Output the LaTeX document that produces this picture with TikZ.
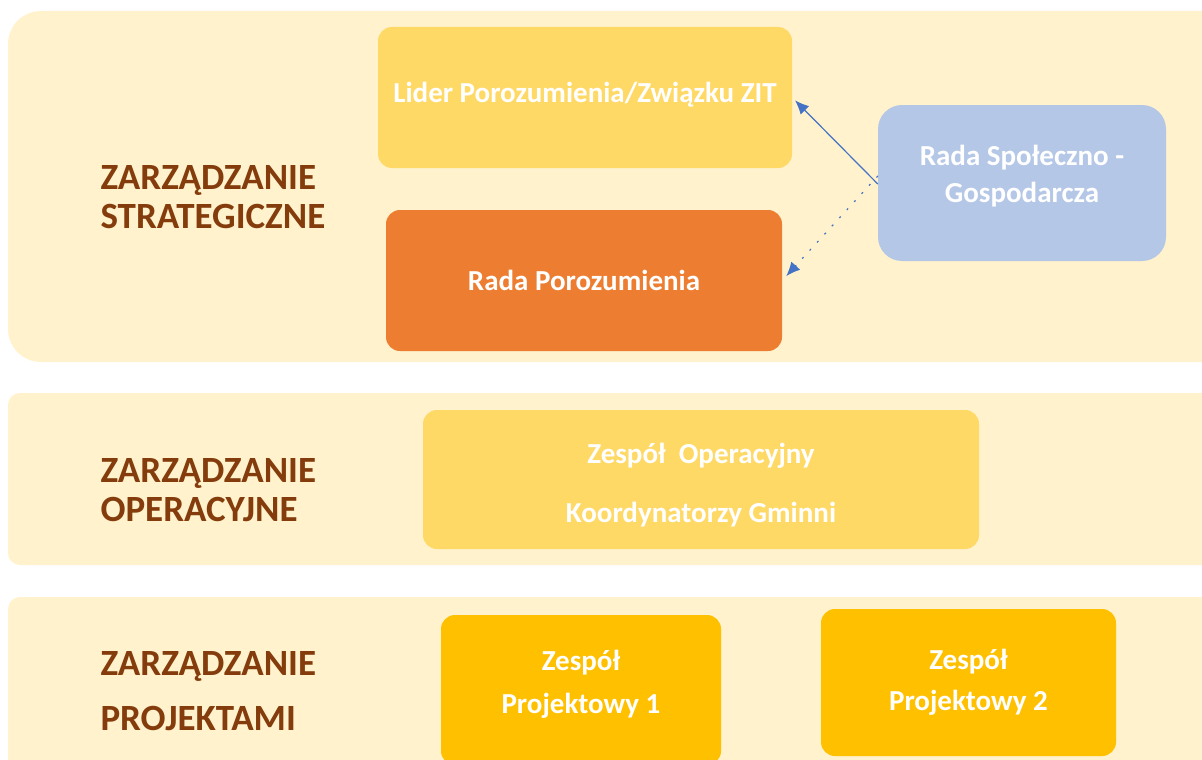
\documentclass[tikz,border=0pt]{standalone}
\usepackage{fontspec}
\setmainfont{Carlito}
\usetikzlibrary{arrows.meta}
\tikzset{>={Latex[length=14pt,width=12pt]}}
\definecolor{bandfill}{HTML}{FFF2CC}
\definecolor{liderfill}{HTML}{FFD966}
\definecolor{radafill}{HTML}{ED7D31}
\definecolor{rsgfill}{HTML}{B4C7E7}
\definecolor{projfill}{HTML}{FFC000}
\definecolor{levelbrown}{HTML}{843C0C}
\definecolor{arrowblue}{HTML}{4472C4}
\tikzset{
  band/.style={fill=bandfill, rounded corners=12pt},
  box/.style={rounded corners=14pt, align=center, text=white, inner sep=0pt,
    font=\bfseries\fontsize{29}{37}\selectfont},
  level/.style={anchor=west, align=left, text=levelbrown,
    font=\bfseries\fontsize{37}{39}\selectfont},
}

\begin{document}
\begin{tikzpicture}[x=1pt,y=-1pt]
\useasboundingbox (0,0) rectangle (1202,760);
\clip (0,0) rectangle (1202,760);

% poziomy
\fill[band, rounded corners=33pt] (8,11) rectangle (1240,362);
\fill[band] (8,393) rectangle (1240,565);
\fill[band] (8,597) rectangle (1240,800);

\node[level] (strat) at (97,197) {ZARZĄDZANIE\\STRATEGICZNE};
\node[level] (oper) at (97,490) {ZARZĄDZANIE\\OPERACYJNE};
\node[level] (proj) at (97,691) {ZARZĄDZANIE\\[16pt]PROJEKTAMI};

% zarzadzanie strategiczne
\node[box, fill=liderfill, minimum width=414pt, minimum height=141pt] (lider) at (585,97.5) {Lider Porozumienia/Związku ZIT\\[-27pt]};
\node[box, fill=radafill, minimum width=396pt, minimum height=141pt] (rada) at (584,280.5) {Rada Porozumienia};
\node[box, fill=rsgfill, rounded corners=24pt, minimum width=288pt, minimum height=156pt] (rsg) at (1022,183) {Rada Społeczno -\\Gospodarcza\\[-18pt]};

\draw[->, arrowblue, line width=1.2pt, shorten >=4pt] ([yshift=-1pt]rsg.west) -- (lider.east);
\draw[->, arrowblue, line width=1.2pt, dash pattern=on 2pt off 9pt, shorten >=6pt] ([yshift=7pt]rsg.west) -- (rada.east);

% zarzadzanie operacyjne
\node[box, fill=liderfill, minimum width=556pt, minimum height=139pt] (ops) at (701,479.5) {Zespół\ \ Operacyjny\\[22pt]Koordynatorzy Gminni\\[-43pt]};

% zarzadzanie projektami
\node[box, fill=projfill, font=\bfseries\fontsize{29}{43}\selectfont, minimum width=280pt, minimum height=150pt] (pp1) at (581,690) {Zespół\\Projektowy 1\\[-26pt]};
\node[box, fill=projfill, font=\bfseries\fontsize{29}{41}\selectfont, minimum width=295pt, minimum height=147pt] (pp2) at (968.5,682.5) {Zespół\\Projektowy 2};
\end{tikzpicture}
\end{document}
